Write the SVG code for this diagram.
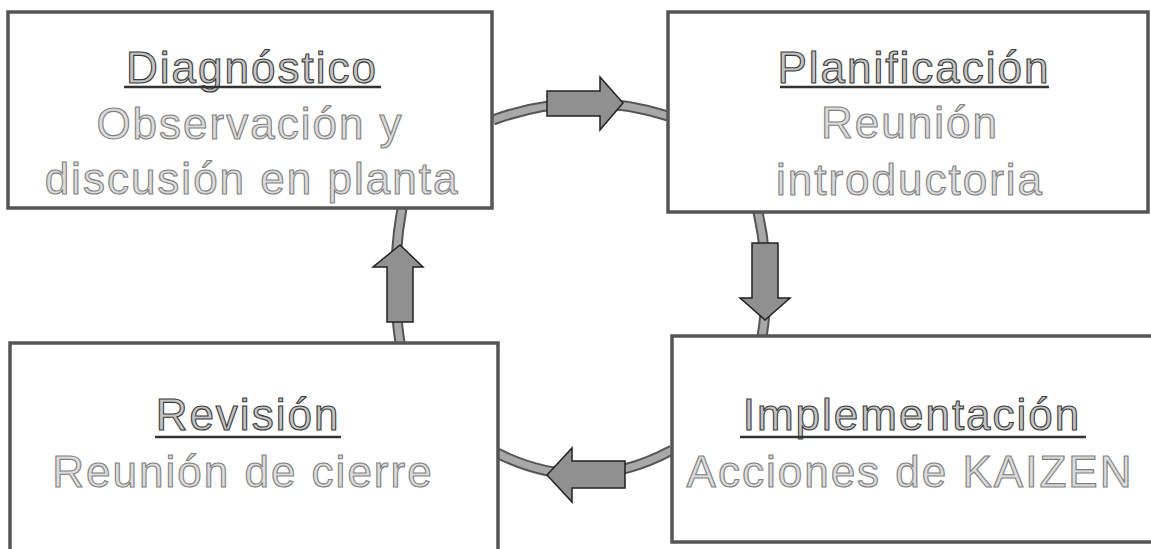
<svg xmlns="http://www.w3.org/2000/svg" width="1151" height="549" viewBox="0 0 1151 549">
<style>
.box{fill:#fff;stroke:#555;stroke-width:3.5}
.t{font-family:"Liberation Sans",Arial,sans-serif;font-size:44px;letter-spacing:2px;text-anchor:middle}
.h{fill:#c4c4c4;stroke:#3a3a3a;stroke-width:1.1}
.s{fill:#dcdcdc;stroke:#808080;stroke-width:1.1}
.ul{stroke:#333;stroke-width:2.5}
.bandO{fill:none;stroke:#555;stroke-width:11}
.bandI{fill:none;stroke:#a8a8a8;stroke-width:7}
.arr{fill:#909090;stroke:#222;stroke-width:1.5;stroke-linejoin:miter}
</style>
<rect width="1151" height="549" fill="#fff"/>
<g id="connectors">
<path class="bandO" d="M493,120 Q580,88 668,116"/>
<path class="bandI" d="M493,120 Q580,88 668,116"/>
<path class="bandO" d="M758,212 Q772,275 762,337"/>
<path class="bandI" d="M758,212 Q772,275 762,337"/>
<path class="bandO" d="M672,450 Q585,497 497,453"/>
<path class="bandI" d="M672,450 Q585,497 497,453"/>
<path class="bandO" d="M402,208 Q390,275 400,343"/>
<path class="bandI" d="M402,208 Q390,275 400,343"/>
<polygon class="arr" points="547,91 600,91 600,77 623,103 600,130 600,116 547,116"/>
<polygon class="arr" points="752,243 778,243 778,298 790,298 765,320 740,298 752,298"/>
<polygon class="arr" points="625,461 572,461 572,448 547,475 572,502 572,488 625,488"/>
<polygon class="arr" points="413,322 387,322 387,267 373,267 400,245 423,267 413,267"/>
</g>
<g id="diagnostico">
<rect class="box" x="8" y="12" width="484" height="196"/>
<text class="t h" x="252" y="83">Diagnóstico</text>
<line class="ul" x1="124" y1="87" x2="381" y2="87"/>
<text class="t s" x="250" y="139">Observación y </text>
<text class="t s" x="252" y="194">discusión en planta</text>
</g>
<g id="planificacion">
<rect class="box" x="668" y="12" width="480" height="200"/>
<text class="t h" x="914" y="83">Planificación</text>
<line class="ul" x1="780" y1="87" x2="1049" y2="87"/>
<text class="t s" x="910" y="138">Reunión</text>
<text class="t s" x="910" y="195">introductoria</text>
</g>
<g id="revision">
<rect class="box" x="10" y="343" width="488" height="220"/>
<text class="t h" x="248" y="430">Revisión</text>
<line class="ul" x1="155" y1="437" x2="341" y2="437"/>
<text class="t s" x="243" y="487">Reunión de cierre</text>
</g>
<g id="implementacion">
<rect class="box" x="672" y="336" width="500" height="206"/>
<text class="t h" x="912" y="430">Implementación</text>
<line class="ul" x1="740" y1="437" x2="1086" y2="437"/>
<text class="t s" x="910" y="487">Acciones de KAIZEN</text>
</g>
</svg>
